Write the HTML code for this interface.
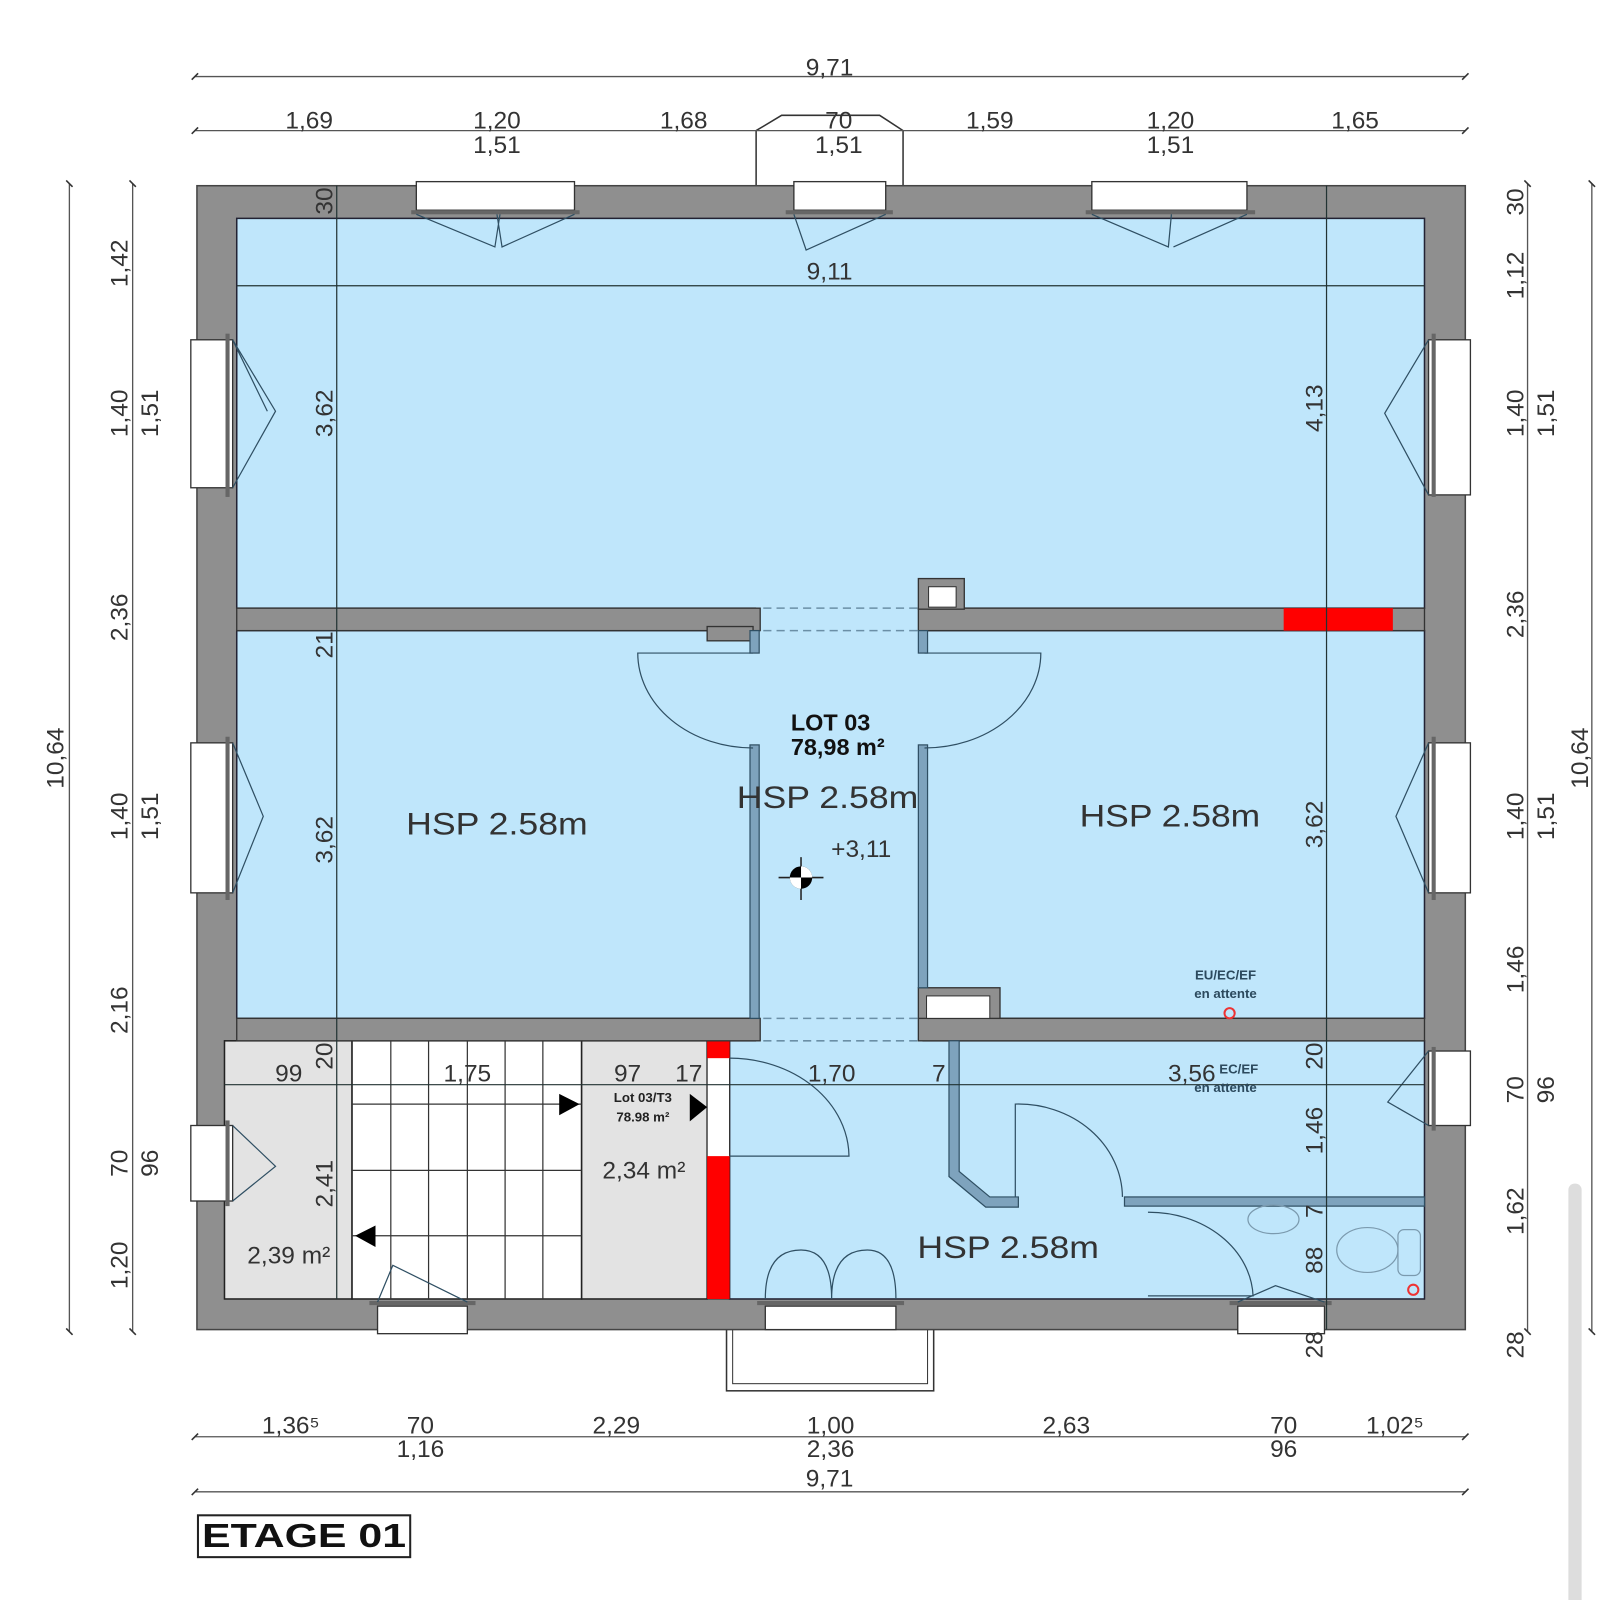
<!DOCTYPE html>
<html><head><meta charset="utf-8"><style>
html,body{margin:0;padding:0;background:#fff;}
svg{display:block;}
text{font-family:"Liberation Sans",sans-serif;fill:#333;}
</style></head><body>
<svg width="1600" height="1600" viewBox="0 0 1568 1568" xmlns="http://www.w3.org/2000/svg">
<defs>
<marker id="tk" viewBox="0 0 10 10" refX="5" refY="5" markerWidth="8" markerHeight="8" orient="auto"><path d="M2 8 L8 2" stroke="#333" stroke-width="1.5"/></marker>
</defs>
<rect width="1568" height="1568" fill="#fff"/>
<rect x="1537" y="1160" width="13" height="420" rx="6" fill="#ddd"/>

<polygon points="741,182 741,128 766,113 862,113 885,128 885,182" fill="#fff" stroke="#333" stroke-width="1.5"/>
<rect x="712" y="1300" width="203" height="63" fill="#fff" stroke="#333" stroke-width="1.5"/>
<rect x="718" y="1300" width="191" height="56" fill="none" stroke="#333" stroke-width="1"/>

<rect x="193" y="182" width="1243" height="1121" fill="#8f8f8f" stroke="#444" stroke-width="1.5"/>
<g fill="#bfe6fb" stroke="#223" stroke-width="1.5">
<rect x="232" y="214" width="1164" height="382"/>
<rect x="232" y="618" width="513" height="380"/>
<rect x="900" y="618" width="496" height="380"/>
<rect x="715" y="1020" width="681" height="253"/>
</g>
<rect x="741" y="590" width="163" height="436" fill="#bfe6fb"/>
<rect x="220" y="1020" width="125" height="253" fill="#e3e3e3" stroke="#222" stroke-width="1.5"/>
<rect x="345" y="1020" width="225" height="253" fill="#fff" stroke="#222" stroke-width="1.5"/>
<rect x="570" y="1020" width="123" height="253" fill="#e3e3e3" stroke="#222" stroke-width="1.5"/>
<rect x="693" y="1020" width="22" height="253" fill="#fff" stroke="#222" stroke-width="1"/>
<rect x="693" y="1020" width="22" height="17" fill="#f00"/>
<rect x="693" y="1133" width="22" height="140" fill="#f00"/>
<g stroke="#333" stroke-width="1.2">
<line x1="383" y1="1020" x2="383" y2="1273"/><line x1="420" y1="1020" x2="420" y2="1273"/><line x1="458" y1="1020" x2="458" y2="1273"/><line x1="495" y1="1020" x2="495" y2="1273"/><line x1="532" y1="1020" x2="532" y2="1273"/>
<line x1="345" y1="1082" x2="570" y2="1082"/><line x1="345" y1="1147" x2="570" y2="1147"/><line x1="345" y1="1211" x2="570" y2="1211"/>
</g>
<polygon points="548,1072 568,1082 548,1093" fill="#000"/>
<polygon points="368,1201 348,1211 368,1222" fill="#000"/>
<polygon points="676,1072 693,1085 676,1099" fill="#000"/>

<g fill="#8f8f8f" stroke="#333" stroke-width="1.3">
<rect x="232" y="596" width="513" height="22"/>
<rect x="900" y="596" width="496" height="22"/>
<rect x="900" y="567" width="45" height="30"/>
<rect x="232" y="998" width="513" height="22"/>
<rect x="900" y="998" width="496" height="22"/>
<rect x="900" y="968" width="80" height="30"/>
<rect x="693" y="614" width="45" height="14"/>
</g>
<rect x="910" y="575" width="27" height="20" fill="#fff" stroke="#333"/>
<rect x="908" y="976" width="62" height="22" fill="#fff" stroke="#333"/>
<rect x="1258" y="596" width="107" height="22" fill="#f00"/>
<g stroke="#6b8fa6" stroke-width="1.5" stroke-dasharray="8 5">
<line x1="748" y1="596" x2="900" y2="596"/><line x1="748" y1="618" x2="900" y2="618"/>
<line x1="748" y1="998" x2="900" y2="998"/><line x1="748" y1="1020" x2="900" y2="1020"/>
</g>
<g fill="#7ea3bd" stroke="#2f4f63" stroke-width="1.2">
<rect x="735" y="618" width="9" height="22"/>
<rect x="900" y="618" width="9" height="22"/>
<rect x="735" y="730" width="9" height="268"/>
<rect x="900" y="730" width="9" height="238"/>
<path d="M930 1020 h10 v128 l30 25 h28 v10 h-32 l-36 -30 z"/>
<rect x="1102" y="1173" width="294" height="9"/>
</g>

<g fill="#fff" stroke="#333" stroke-width="1.3">
<rect x="408" y="178" width="155" height="28"/><rect x="778" y="178" width="90" height="28"/><rect x="1070" y="178" width="152" height="28"/>
<rect x="187" y="333" width="41" height="145"/><rect x="187" y="728" width="41" height="147"/><rect x="187" y="1103" width="41" height="74"/>
<rect x="1400" y="333" width="41" height="152"/><rect x="1400" y="728" width="41" height="147"/><rect x="1400" y="1030" width="41" height="73"/>
<rect x="370" y="1280" width="88" height="27"/><rect x="750" y="1280" width="128" height="23"/><rect x="1213" y="1280" width="85" height="27"/>
</g>
<g fill="#666" stroke="none">
<rect x="403" y="206" width="165" height="4"/><rect x="770" y="206" width="105" height="4"/><rect x="1064" y="206" width="166" height="4"/>
<rect x="221" y="327" width="4" height="160"/><rect x="221" y="722" width="4" height="160"/><rect x="221" y="1098" width="4" height="84"/>
<rect x="1403" y="327" width="4" height="160"/><rect x="1403" y="722" width="4" height="160"/><rect x="1403" y="1026" width="4" height="82"/>
<rect x="362" y="1275" width="104" height="4"/><rect x="742" y="1275" width="144" height="4"/><rect x="1205" y="1275" width="100" height="4"/>
</g>
<g fill="none" stroke="#2f4f63" stroke-width="1.2">
<path d="M408 210 L485 242 L490 210 M563 210 L492 242 L487 210"/>
<path d="M778 210 L790 245 L868 210"/>
<path d="M1070 210 L1145 242 L1148 210 M1222 210 L1150 242"/>
<path d="M228 333 L270 403 L228 478 M228 333 L262 403"/>
<path d="M228 728 L258 800 L228 875"/>
<path d="M228 1103 L270 1143 L228 1177"/>
<path d="M1400 333 L1357 405 L1400 485"/>
<path d="M1400 728 L1368 800 L1400 875"/>
<path d="M1400 1030 L1360 1080 L1400 1103"/>
<path d="M370 1276 L385 1240 L458 1276"/>
<path d="M750 1273 Q750 1225 785 1225 Q815 1225 815 1273 M815 1273 Q815 1225 850 1225 Q878 1225 878 1273"/>
<path d="M1213 1276 L1250 1260 L1298 1276"/>
</g>
<g fill="none" stroke="#2f4f63" stroke-width="1.2">
<path d="M738 640 L625 640 A113 93 0 0 0 738 733"/>
<path d="M906 640 L1020 640 A114 93 0 0 1 906 733"/>
<path d="M715 1037 A117 97 0 0 1 832 1133 L715 1133"/>
<path d="M995 1173 L995 1082 A102 92 0 0 1 1100 1173"/>
<path d="M1125 1188 A102 85 0 0 1 1228 1270 L1125 1270"/>
</g>
<g fill="none" stroke="#7b9aae" stroke-width="1.2">
<ellipse cx="1248" cy="1195" rx="25" ry="14"/>
<ellipse cx="1340" cy="1225" rx="30" ry="22"/>
<rect x="1370" y="1205" width="22" height="45" rx="6"/>
</g>
<circle cx="1385" cy="1264" r="5" fill="none" stroke="#e33" stroke-width="2"/>
<circle cx="1205" cy="993" r="5" fill="none" stroke="#e33" stroke-width="2"/>
<g stroke="#233" stroke-width="1.2">
<line x1="330" y1="182" x2="330" y2="1273"/>
<line x1="1300" y1="182" x2="1300" y2="1303"/>
<line x1="232" y1="280" x2="1396" y2="280"/>
<line x1="220" y1="1063" x2="1396" y2="1063"/>
</g>
<g stroke="#222" stroke-width="1.5"><line x1="763" y1="860" x2="807" y2="860"/><line x1="785" y1="840" x2="785" y2="882"/></g>
<circle cx="785" cy="860" r="11" fill="#000"/>
<path d="M785 849 A11 11 0 0 1 796 860 L785 860 Z M785 871 A11 11 0 0 1 774 860 L785 860 Z" fill="#fff"/>

<g stroke="#555" stroke-width="1.3" marker-start="url(#tk)" marker-end="url(#tk)">
<line x1="191" y1="75" x2="1436" y2="75"/>
<line x1="191" y1="128" x2="1436" y2="128"/>
<line x1="191" y1="1408" x2="1436" y2="1408"/>
<line x1="191" y1="1462" x2="1436" y2="1462"/>
<line x1="68" y1="180" x2="68" y2="1305"/>
<line x1="130" y1="180" x2="130" y2="1305"/>
<line x1="1497" y1="180" x2="1497" y2="1305"/>
<line x1="1560" y1="180" x2="1560" y2="1305"/>
</g>

<g font-size="24" text-anchor="middle">
<text x="813" y="74">9,71</text>
<text x="303" y="126">1,69</text><text x="487" y="126">1,20</text><text x="487" y="150">1,51</text>
<text x="670" y="126">1,68</text><text x="822" y="126">70</text><text x="822" y="150">1,51</text>
<text x="970" y="126">1,59</text><text x="1147" y="126">1,20</text><text x="1147" y="150">1,51</text><text x="1328" y="126">1,65</text>
<text x="813" y="274">9,11</text>
<text x="285" y="1405">1,36⁵</text><text x="412" y="1405">70</text><text x="412" y="1428">1,16</text>
<text x="604" y="1405">2,29</text><text x="814" y="1405">1,00</text><text x="814" y="1428">2,36</text>
<text x="1045" y="1405">2,63</text><text x="1258" y="1405">70</text><text x="1258" y="1428">96</text><text x="1367" y="1405">1,02⁵</text>
<text x="813" y="1457">9,71</text>
<text x="283" y="1060">99</text><text x="458" y="1060">1,75</text><text x="615" y="1060">97</text><text x="675" y="1060">17</text>
<text x="815" y="1060">1,70</text><text x="920" y="1060">7</text><text x="1168" y="1060">3,56</text>
</g>
<g font-size="24" text-anchor="middle">
<text transform="translate(62,743) rotate(-90)">10,64</text>
<text transform="translate(125,258) rotate(-90)">1,42</text>
<text transform="translate(125,405) rotate(-90)">1,40</text>
<text transform="translate(155,405) rotate(-90)">1,51</text>
<text transform="translate(125,605) rotate(-90)">2,36</text>
<text transform="translate(125,800) rotate(-90)">1,40</text>
<text transform="translate(155,800) rotate(-90)">1,51</text>
<text transform="translate(125,990) rotate(-90)">2,16</text>
<text transform="translate(125,1140) rotate(-90)">70</text>
<text transform="translate(155,1140) rotate(-90)">96</text>
<text transform="translate(125,1240) rotate(-90)">1,20</text>
<text transform="translate(326,197) rotate(-90)">30</text>
<text transform="translate(326,405) rotate(-90)">3,62</text>
<text transform="translate(326,632) rotate(-90)">21</text>
<text transform="translate(326,823) rotate(-90)">3,62</text>
<text transform="translate(326,1035) rotate(-90)">20</text>
<text transform="translate(326,1160) rotate(-90)">2,41</text>
<text transform="translate(1296,400) rotate(-90)">4,13</text>
<text transform="translate(1296,808) rotate(-90)">3,62</text>
<text transform="translate(1296,1035) rotate(-90)">20</text>
<text transform="translate(1296,1108) rotate(-90)">1,46</text>
<text transform="translate(1296,1187) rotate(-90)">7</text>
<text transform="translate(1296,1235) rotate(-90)">88</text>
<text transform="translate(1296,1318) rotate(-90)">28</text>
<text transform="translate(1493,198) rotate(-90)">30</text>
<text transform="translate(1493,270) rotate(-90)">1,12</text>
<text transform="translate(1493,405) rotate(-90)">1,40</text>
<text transform="translate(1523,405) rotate(-90)">1,51</text>
<text transform="translate(1493,602) rotate(-90)">2,36</text>
<text transform="translate(1493,800) rotate(-90)">1,40</text>
<text transform="translate(1523,800) rotate(-90)">1,51</text>
<text transform="translate(1493,950) rotate(-90)">1,46</text>
<text transform="translate(1493,1068) rotate(-90)">70</text>
<text transform="translate(1523,1068) rotate(-90)">96</text>
<text transform="translate(1493,1187) rotate(-90)">1,62</text>
<text transform="translate(1493,1318) rotate(-90)">28</text>
<text transform="translate(1556,743) rotate(-90)">10,64</text>
</g>
<g font-size="31" style="fill:#2c4a5e">
<text x="398" y="818" textLength="178" lengthAdjust="spacingAndGlyphs">HSP 2.58m</text>
<text x="722" y="792" textLength="178" lengthAdjust="spacingAndGlyphs">HSP 2.58m</text>
<text x="1058" y="810" textLength="177" lengthAdjust="spacingAndGlyphs">HSP 2.58m</text>
<text x="899" y="1233" textLength="178" lengthAdjust="spacingAndGlyphs">HSP 2.58m</text>
</g>
<g font-size="24" text-anchor="middle">
<text x="844" y="840">+3,11</text>
<text x="631" y="1155">2,34 m²</text>
<text x="283" y="1238">2,39 m²</text>
</g>
<g font-weight="bold">
<text x="775" y="716" font-size="23" style="fill:#111">LOT 03</text>
<text x="775" y="740" font-size="23" style="fill:#111">78,98 m²</text>
<text x="630" y="1080" font-size="13" text-anchor="middle" style="fill:#222">Lot 03/T3</text>
<text x="630" y="1099" font-size="13" text-anchor="middle" style="fill:#222">78.98 m²</text>
<text x="1201" y="960" font-size="13" text-anchor="middle" style="fill:#2c4a5e">EU/EC/EF</text>
<text x="1201" y="978" font-size="13" text-anchor="middle" style="fill:#2c4a5e">en attente</text>
<text x="1214" y="1052" font-size="13" text-anchor="middle" style="fill:#2c4a5e">EC/EF</text>
<text x="1201" y="1070" font-size="13" text-anchor="middle" style="fill:#2c4a5e">en attente</text>
</g>
<rect x="194" y="1485" width="208" height="41" fill="#fff" stroke="#222" stroke-width="2"/>
<text x="298" y="1516" font-size="33" font-weight="bold" text-anchor="middle" textLength="200" lengthAdjust="spacingAndGlyphs" style="fill:#111">ETAGE 01</text>
</svg>
</body></html>
